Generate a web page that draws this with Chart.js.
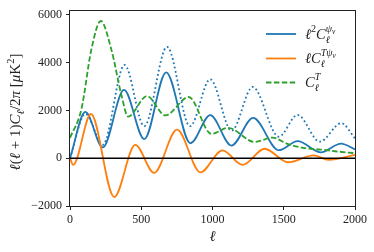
<!DOCTYPE html>
<html>
<head>
<meta charset="utf-8">
<script src="https://cdn.jsdelivr.net/npm/chart.js@4"></script>
<style>
html,body{margin:0;padding:0;background:#fff;}
#wrap{width:374px;height:252px;}
</style>
</head>
<body>
<div id="wrap"><canvas id="c" width="374" height="252"></canvas></div>
<script>
// multipole ell values and spectrum values (muK^2)
const solidL  = [0,108,230,379,521,675,845,984,1133,1285,1465,1597,1760,1902,2000];
const solidV  = [0,1935,450,2855,800,3590,625,1800,530,1685,335,715,245,610,370];
const dottedL = [0,108,230,383,521,681,842,984,1134,1282,1465,1597,1753,1904,2000];
const dottedV = [0,1860,560,3900,1340,4660,1340,3300,1150,2980,900,1810,690,1465,830];
const crossL  = [0,22,147,310,458,590,751,915,1070,1211,1366,1530,1710,1815,2000];
const crossV  = [0,-280,1850,-1625,555,-610,1195,-590,330,-280,395,-170,120,-70,140];
const ttL     = [0,80,150,216,290,362,408,540,669,833,992,1110,1295,1420,1530,1648,1760,1860,2000];
const ttV     = [850,2050,4550,5740,4550,2610,1740,2600,1790,2560,1020,1270,680,860,590,420,360,290,210];
const xTicks  = [0,500,1000,1500,2000];
const yTicks  = [-2000,0,2000,4000,6000];

const BLUE='#1f77b4', ORANGE='#ff7f0e', GREEN='#2ca02c';
const SERIF='"Liberation Serif", "DejaVu Serif", serif';

function pts(L,V){return L.map((l,i)=>({x:l,y:V[i]}));}

function drawRich(ctx, x, y, parts, base, measureOnly){
  let cx = x;
  for (const p of parts){
    const s = p.s || 1;
    ctx.font = (p.it ? 'italic ' : '') + (base*s).toFixed(1) + 'px ' + SERIF;
    const w = ctx.measureText(p.t).width;
    if (!measureOnly) ctx.fillText(p.t, cx + (p.dx||0)*base, y + (p.dy||0)*base);
    if (p.back) continue;
    cx += w + (p.dx||0)*base;
  }
  return cx - x;
}

const lab1 = [{t:'ℓ',it:1},{t:'2',s:0.7,dy:-0.42},{t:'C',it:1},{t:'ℓ',it:1,s:0.7,dy:0.3,back:1},{t:'ψ',it:1,s:0.7,dy:-0.45},{t:'v',it:1,s:0.5,dy:-0.32}];
const lab2 = [{t:'ℓ',it:1},{t:'C',it:1},{t:'ℓ',it:1,s:0.7,dy:0.3,back:1},{t:'T',it:1,s:0.7,dy:-0.45},{t:'ψ',it:1,s:0.7,dy:-0.45},{t:'v',it:1,s:0.5,dy:-0.32}];
const lab3 = [{t:'C',it:1},{t:'ℓ',it:1,s:0.7,dy:0.3,back:1},{t:'T',it:1,s:0.7,dy:-0.45}];
const yTitle = [{t:'ℓ',it:1},{t:'(',},{t:'ℓ',it:1},{t:' + 1)'},{t:'C',it:1},{t:'ℓ',it:1,s:0.7,dy:0.25},{t:'/2'},{t:'π',it:1},{t:' ['},{t:'μ',it:1},{t:'K'},{t:'2',s:0.7,dy:-0.4},{t:']'}];

const decor = {
  id:'decor',
  afterDatasetsDraw(chart){
    const ctx = chart.ctx, a = chart.chartArea, ys = chart.scales.y;
    ctx.save();
    const y0 = ys.getPixelForValue(0);
    ctx.strokeStyle = '#000'; ctx.lineWidth = 1.4;
    ctx.beginPath(); ctx.moveTo(a.left, y0); ctx.lineTo(a.right, y0); ctx.stroke();
    ctx.restore();
  },
  afterDraw(chart){
    const ctx = chart.ctx, a = chart.chartArea;
    ctx.save();
    ctx.strokeStyle = '#222'; ctx.lineWidth = 1;
    ctx.strokeRect(Math.round(a.left)-0.5, Math.round(a.top)-0.5, Math.round(a.right-a.left)+1, Math.round(a.bottom-a.top)+1);
    const rows = [
      {y:34, c:BLUE, dash:[], lab:lab1},
      {y:58.5, c:ORANGE, dash:[], lab:lab2},
      {y:82.5, c:GREEN, dash:[5.5,2.4], lab:lab3}
    ];
    for (const r of rows){
      ctx.strokeStyle = r.c; ctx.lineWidth = 1.8; ctx.setLineDash(r.dash);
      ctx.beginPath(); ctx.moveTo(266, r.y); ctx.lineTo(296, r.y); ctx.stroke();
      ctx.setLineDash([]);
      ctx.fillStyle = '#222'; ctx.textBaseline = 'alphabetic';
      drawRich(ctx, 305, r.y + 4.5, r.lab, 14.5);
    }
    ctx.font = 'italic 15px ' + SERIF; ctx.textAlign = 'center'; ctx.textBaseline = 'middle';
    ctx.fillText('ℓ', (a.left + a.right)/2, 237);
    ctx.textAlign = 'left'; ctx.textBaseline = 'alphabetic';
    ctx.translate(20, 112); ctx.rotate(-Math.PI/2);
    const w = drawRich(ctx, 0, 0, yTitle, 15, true);
    drawRich(ctx, -w/2, 0, yTitle, 15);
    ctx.restore();
  }
};

const lineDs = (label, L, V, color, dash, order) => ({
  label, data: pts(L,V), borderColor: color, backgroundColor: color,
  borderWidth: 1.8, borderDash: dash, pointRadius: 0, fill: false,
  cubicInterpolationMode: 'monotone', order, borderCapStyle: 'butt'
});

new Chart(document.getElementById('c'), {
  type: 'line',
  data: { datasets: [
    lineDs('dotted', dottedL, dottedV, BLUE, [1.8,2.6], 4),
    lineDs('ℓ²C', solidL, solidV, BLUE, [], 3),
    lineDs('ℓC', crossL, crossV, ORANGE, [], 2),
    lineDs('CT', ttL, ttV, GREEN, [5.5,2.4], 1)
  ]},
  options: {
    responsive: false, animation: false, devicePixelRatio: 1,
    layout: { padding: { left: 0, top: 10, right: 19, bottom: 0 } },
    plugins: { legend: { display: false }, tooltip: { enabled: false } },
    scales: {
      x: {
        type: 'linear', min: 0, max: 2000,
        afterFit(s){ s.height = 46; },
        afterBuildTicks(s){ s.ticks = xTicks.map(v=>({value:v})); },
        ticks: { color:'#222', font:{family:SERIF, size:12}, padding: 3, maxRotation:0,
          callback: v => String(v) },
        grid: { drawOnChartArea:false, drawTicks:true, tickLength:4, color:'#222' },
        border: { display:false }
      },
      y: {
        type: 'linear', min: -2000, max: 6150,
        afterFit(s){ s.width = 70; },
        afterBuildTicks(s){ s.ticks = yTicks.map(v=>({value:v})); },
        ticks: { color:'#222', font:{family:SERIF, size:12}, padding: 4,
          callback: v => (v < 0 ? '\u2212' + Math.abs(v) : String(v)) },
        grid: { drawOnChartArea:false, drawTicks:true, tickLength:4, color:'#222' },
        border: { display:false }
      }
    }
  },
  plugins: [decor]
});
</script>
</body>
</html>
